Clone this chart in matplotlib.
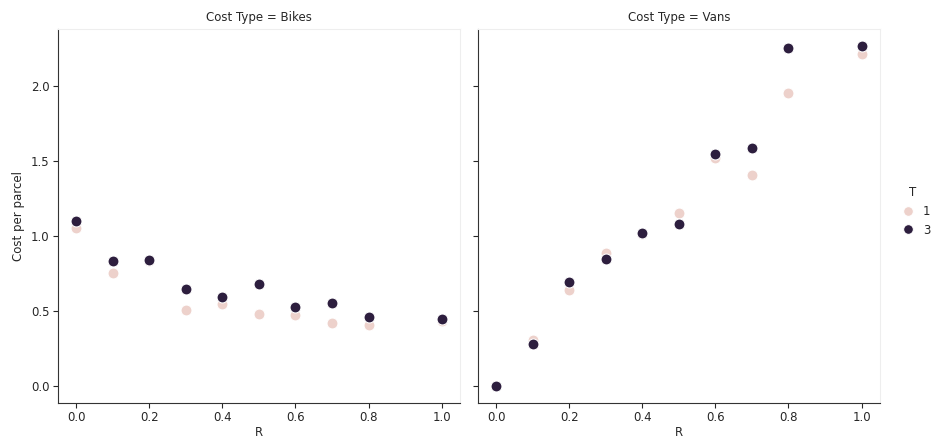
import numpy as np
import pandas as pd
import matplotlib
matplotlib.use("Agg")
import matplotlib.pyplot as plt
import seaborn as sns
from matplotlib.lines import Line2D

# ---- data
r_vals = [0.0, 0.1, 0.2, 0.3, 0.4, 0.5, 0.6, 0.7, 0.8, 1.0]
t_vals = [1, 3]
cost_types = ["Bikes", "Vans"]

bikes_t1 = [1.055, 0.752, 0.835, 0.506, 0.543, 0.481, 0.474, 0.417, 0.406, 0.435]
bikes_t3 = [1.100, 0.831, 0.840, 0.643, 0.592, 0.678, 0.528, 0.552, 0.461, 0.448]
vans_t1 = [0.000, 0.307, 0.640, 0.887, 1.010, 1.153, 1.516, 1.404, 1.951, 2.209]
vans_t3 = [0.000, 0.278, 0.696, 0.847, 1.018, 1.080, 1.542, 1.587, 2.253, 2.264]

series = {("Bikes", 1): bikes_t1, ("Bikes", 3): bikes_t3,
          ("Vans", 1): vans_t1, ("Vans", 3): vans_t3}

rows = []
for ct in cost_types:
    for t in t_vals:
        for r, c in zip(r_vals, series[(ct, t)]):
            rows.append({"Cost Type": ct, "T": t, "R": r, "Cost per parcel": c})
df = pd.DataFrame(rows)

sns.set_style("ticks")
plt.rcParams["font.family"] = ["DejaVu Sans"]
plt.rcParams["font.size"] = 8.5

cmap = sns.cubehelix_palette(as_cmap=True)
colors = {1: cmap(0.0), 3: cmap(1.0)}

fig, axes = plt.subplots(1, 2, figsize=(9.35, 4.4), dpi=100, sharey=True)
fig.subplots_adjust(left=0.062, right=0.941, top=0.934, bottom=0.084, wspace=0.045)

for ax, ct in zip(axes, cost_types):
    sub = df[df["Cost Type"] == ct]
    for t in t_vals:
        d = sub[sub["T"] == t]
        ax.scatter(d["R"], d["Cost per parcel"], s=62, color=colors[t],
                   edgecolor="white", linewidth=0.75, zorder=2 + t)
    ax.set_title(f"Cost Type = {ct}", fontsize=8.5, color="#262626")
    ax.set_xlabel("R", fontsize=8.5, labelpad=1)
    ax.set_xticks([0.0, 0.2, 0.4, 0.6, 0.8, 1.0])
    ax.set_yticks([0.0, 0.5, 1.0, 1.5, 2.0])
    ax.tick_params(labelsize=8.5, length=3.5, pad=2.5)
    for s in ("top", "right"):
        ax.spines[s].set_color("#eeeeee")
        ax.spines[s].set_linewidth(0.8)
    for s in ("left", "bottom"):
        ax.spines[s].set_color("#333333")

axes[0].set_ylabel("Cost per parcel", fontsize=8.5)
axes[1].set_ylabel("")
axes[1].tick_params(labelleft=False)

handles = [Line2D([], [], marker="o", linestyle="", markersize=7,
                  markerfacecolor=colors[t], markeredgecolor="white",
                  markeredgewidth=0.75) for t in t_vals]
fig.legend(handles, [str(t) for t in t_vals], title="T", loc="center left",
           bbox_to_anchor=(0.953, 0.52), frameon=False, fontsize=8.5,
           title_fontsize=8.5, handletextpad=0.3, borderaxespad=0)

fig.savefig("out.png", dpi=100)
